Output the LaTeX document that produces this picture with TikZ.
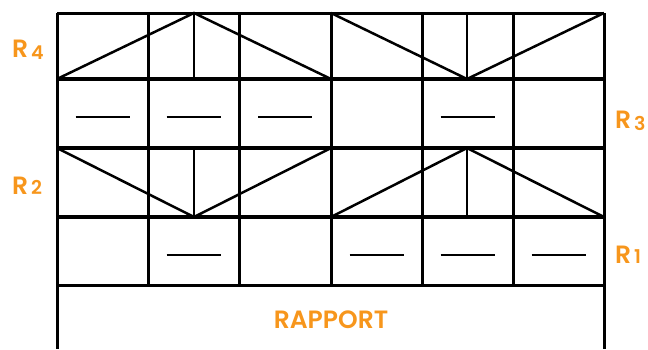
\documentclass[tikz,border=0pt]{standalone}
\usepackage{fontspec}
\setmainfont{Poppins}[UprightFont=* SemiBold]
\definecolor{lblorange}{HTML}{F7961C}
\newcommand{\odig}[2]{\raisebox{#1}{\fontsize{19}{19}\selectfont #2}}
\tikzset{
  gridline/.style={draw=black, line width=3pt},
  sepline/.style={draw=black, line width=4.6pt},
  fineline/.style={draw=black, line width=2.5pt},
  dashmark/.style={draw=black, line width=2.6pt},
  lbl/.style={text=lblorange, font=\fontsize{25}{25}\selectfont, inner sep=0pt, anchor=base west},
}
\begin{document}
\begin{tikzpicture}[x=1pt,y=-1pt]
\useasboundingbox (0,0) rectangle (648,349);
% column and row positions
\def\cA{57}\def\cB{148}\def\cC{239}\def\cD{331}\def\cE{422}\def\cF{513}\def\cG{604}
\def\rA{13}\def\rB{79}\def\rC{148}\def\rD{217}\def\rE{285}
% vertical outer lines
\draw[gridline] (\cA,\rA) -- (\cA,349);
\draw[gridline] (\cG,\rA) -- (\cG,349);
% column lines
\foreach \c in {\cB,\cC,\cD,\cE,\cF}
  \draw[gridline] (\c,\rA) -- (\c,\rE);
% horizontal lines
\draw[gridline] (\cA,\rA) -- (\cG,\rA);
\draw[sepline] (\cA,\rB) -- (\cG,\rB);
\draw[sepline] (\cA,\rC) -- (\cG,\rC);
\draw[sepline] (\cA,\rD) -- (\cG,\rD);
\draw[gridline] (\cA,\rE) -- (\cG,\rE);
% R4 row
\draw[fineline, line join=miter] (\cA,\rB) -- (194,\rA) -- (\cD,\rB);
\draw[fineline] (194,\rA) -- (194,\rB);
\draw[fineline, line join=miter] (\cD,\rA) -- (467,\rB) -- (\cG,\rA);
\draw[fineline] (467,\rA) -- (467,\rB);
% R2 row
\draw[fineline, line join=miter] (\cA,\rC) -- (194,\rD) -- (\cD,\rC);
\draw[fineline] (194,\rC) -- (194,\rD);
\draw[fineline, line join=miter] (\cD,\rD) -- (467,\rC) -- (\cG,\rD);
\draw[fineline] (467,\rC) -- (467,\rD);
% dashes R3 row
\foreach \m in {102.5,193.5,285,467.5}
  \draw[dashmark] (\m-27,117) -- (\m+27,117);
% dashes R1 row
\foreach \m in {193.5,376.5,467.5,558.5}
  \draw[dashmark] (\m-27,255) -- (\m+27,255);
% labels
\node[lbl] (r4) at (12,57) {R\kern3pt\odig{-2.5pt}{4}};
\node[lbl] (r3) at (615,128) {R\kern3pt\odig{-2.5pt}{3}};
\node[lbl] (r2) at (12,194) {R\kern3pt\odig{0pt}{2}};
\node[lbl] (r1) at (615,263) {R\kern3pt\odig{0pt}{1}};
\node[text=lblorange, font=\fontsize{25}{25}\selectfont, inner sep=0pt, anchor=base] (rapport) at (331,328) {RAPPORT};
\end{tikzpicture}
\end{document}
